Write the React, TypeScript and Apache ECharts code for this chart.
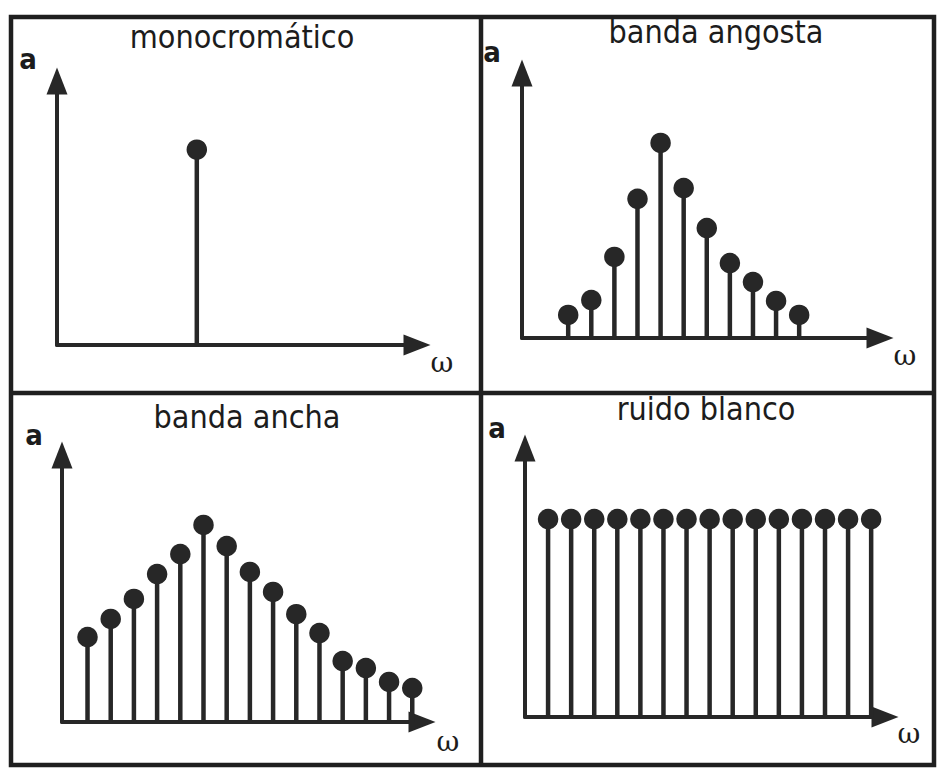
import React, { useEffect, useRef } from "react";
import * as echarts from "echarts";

// Panel titles and axis names
const titles = ["monocromático", "banda angosta", "banda ancha", "ruido blanco"];
const yName = "a";
const xName = "ω";

// monocromático: a single frequency
const monoOmega = [6];
const monoAmp = [7.4];

// banda angosta: narrow band
const narrowOmega = [2, 3, 4, 5, 6, 7, 8, 9, 10, 11, 12];
const narrowAmp = [0.87, 1.43, 3.06, 5.25, 7.36, 5.66, 4.15, 2.83, 2.11, 1.4, 0.87];

// banda ancha: wide band
const wideOmega = [1, 2, 3, 4, 5, 6, 7, 8, 9, 10, 11, 12, 13, 14, 15];
const wideAmp = [3.18, 3.86, 4.61, 5.54, 6.29, 7.38, 6.59, 5.62, 4.87, 4.04, 3.33, 2.28, 2.02, 1.5, 1.27];

// ruido blanco: white noise
const whiteOmega = [1, 2, 3, 4, 5, 6, 7, 8, 9, 10, 11, 12, 13, 14, 15];
const whiteAmp = [7.36, 7.36, 7.36, 7.36, 7.36, 7.36, 7.36, 7.36, 7.36, 7.36, 7.36, 7.36, 7.36, 7.36, 7.36];

const INK = "#272727";
const FRAME = "#1f1f1f";
const FONT = "'DejaVu Sans Condensed', 'DejaVu Sans', sans-serif";

const panels = [
  {
    omega: monoOmega, amp: monoAmp,
    grid: { left: 57, top: 81, width: 360, height: 264 },
    xMin: 0, xMax: 15.45,
    titlePos: [242, 37], aPos: [28, 59], wPos: [442, 362],
  },
  {
    omega: narrowOmega, amp: narrowAmp,
    grid: { left: 522, top: 73, width: 358, height: 265 },
    xMin: 0, xMax: 15.5,
    titlePos: [716, 32], aPos: [492, 52], wPos: [905, 355],
  },
  {
    omega: wideOmega, amp: wideAmp,
    grid: { left: 62, top: 455, width: 360, height: 267 },
    xMin: -0.1, xMax: 15.42,
    titlePos: [247, 417], aPos: [34, 435], wPos: [448, 741],
  },
  {
    omega: whiteOmega, amp: whiteAmp,
    grid: { left: 525, top: 448, width: 360, height: 269 },
    xMin: 0, xMax: 15.6,
    titlePos: [706, 409], aPos: [497, 428], wPos: [909, 733],
  },
];

function textEl(text: string, pos: number[], font: string) {
  return {
    type: "text",
    x: pos[0],
    y: pos[1],
    silent: true,
    style: {
      text,
      font,
      fill: "#1c1c1c",
      align: "center",
      verticalAlign: "middle",
      textAlign: "center",
      textVerticalAlign: "middle",
    },
  };
}

export default function App() {
  const ref = useRef<HTMLDivElement>(null);

  useEffect(() => {
    if (!ref.current) return;
    const chart = echarts.init(ref.current, undefined, { renderer: "svg" });

    const axisLine = {
      show: true,
      onZero: false,
      symbol: ["none", "triangle"],
      symbolSize: [21, 27],
      lineStyle: { color: INK, width: 4 },
    };

    const grids = panels.map((p) => ({ ...p.grid, containLabel: false }));
    const xAxes = panels.map((p, i) => ({
      type: "value",
      gridIndex: i,
      min: p.xMin,
      max: p.xMax,
      axisLine,
      axisTick: { show: false },
      axisLabel: { show: false },
      splitLine: { show: false },
    }));
    const yAxes = panels.map((p, i) => ({
      type: "value",
      gridIndex: i,
      min: 0,
      max: 10,
      axisLine,
      axisTick: { show: false },
      axisLabel: { show: false },
      splitLine: { show: false },
    }));

    const series: any[] = [];
    panels.forEach((p, i) => {
      const data = p.omega.map((w, k) => [w, p.amp[k]]);
      series.push({
        type: "bar",
        xAxisIndex: i,
        yAxisIndex: i,
        barWidth: 4.5,
        itemStyle: { color: INK },
        data,
        z: 3,
        silent: true,
      });
      series.push({
        type: "scatter",
        xAxisIndex: i,
        yAxisIndex: i,
        symbol: "circle",
        symbolSize: 20.5,
        itemStyle: { color: INK, opacity: 1 },
        data,
        z: 4,
        silent: true,
      });
    });

    const graphic: any[] = [
      {
        type: "rect",
        shape: { x: 11, y: 17, width: 923, height: 748 },
        style: { fill: "none", stroke: FRAME, lineWidth: 4.5 },
        silent: true,
      },
      {
        type: "line",
        shape: { x1: 481, y1: 17, x2: 481, y2: 765 },
        style: { stroke: FRAME, lineWidth: 4.5 },
        silent: true,
      },
      {
        type: "line",
        shape: { x1: 11, y1: 393, x2: 934, y2: 393 },
        style: { stroke: FRAME, lineWidth: 4.5 },
        silent: true,
      },
    ];
    panels.forEach((p, i) => {
      graphic.push(textEl(titles[i], p.titlePos, `32px ${FONT}`));
      graphic.push(textEl(yName, p.aPos, `bold 29px ${FONT}`));
      graphic.push(textEl(xName, p.wPos, `28px 'DejaVu Serif', serif`));
    });

    chart.setOption({
      animation: false,
      backgroundColor: "#ffffff",
      grid: grids,
      xAxis: xAxes,
      yAxis: yAxes,
      series,
      graphic,
    });

    return () => chart.dispose();
  }, []);

  return (
    <div
      ref={ref}
      style={{ position: "absolute", left: 0, top: 0, width: 938, height: 770, background: "#fff" }}
    />
  );
}
